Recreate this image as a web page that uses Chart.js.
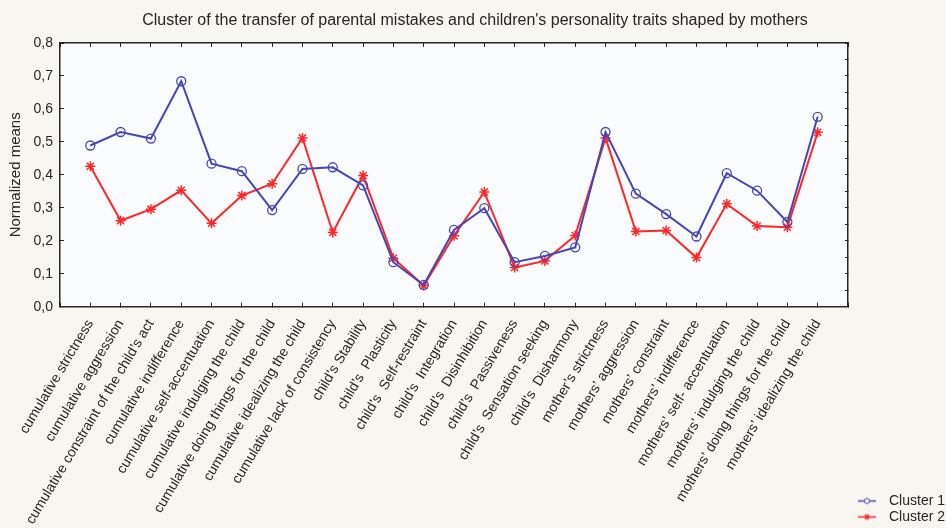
<!DOCTYPE html>
<html>
<head>
<meta charset="utf-8">
<script src="https://cdn.jsdelivr.net/npm/chart.js@4/dist/chart.umd.min.js"></script>
<style>
  html, body { margin: 0; padding: 0; background: #f8f6f0; }
  canvas { display: block; }
</style>
</head>
<body>
<canvas id="chart" width="946" height="528"></canvas>
<script>
// Variables along the x axis (parental mistakes, child traits, mothers' mistakes)
const categories = [
  "cumulative strictness",
  "cumulative aggression",
  "cumulative constraint of the child\u2019s act",
  "cumulative indifference",
  "cumulative self-accentuation",
  "cumulative indulging the child",
  "cumulative doing things for the child",
  "cumulative idealizing the child",
  "cumulative lack of consistency",
  "child\u2019s Stability",
  "child\u2019s  Plasticity",
  "child\u2019s  Self-restraint",
  "child\u2019s  Integration",
  "child\u2019s  Disinhibition",
  "child\u2019s  Passiveness",
  "child\u2019s  Sensation seeking",
  "child\u2019s  Disharmony",
  "mother\u2019s strictness",
  "mothers\u2019 aggression",
  "mothers\u2019 constraint",
  "mothers\u2019 indifference",
  "mothers\u2019 self- accentuation",
  "mothers\u2019 indulging the child",
  "mothers\u2019 doing things for the child",
  "mothers\u2019 idealizing the child"
];

// Normalized means per cluster
const cluster1 = [0.489, 0.530, 0.510, 0.684, 0.434, 0.411, 0.293, 0.418, 0.423, 0.368,
                  0.135, 0.066, 0.233, 0.299, 0.135, 0.154, 0.180, 0.530, 0.343, 0.281,
                  0.213, 0.405, 0.352, 0.257, 0.576];
const cluster2 = [0.426, 0.261, 0.296, 0.353, 0.253, 0.337, 0.373, 0.512, 0.225, 0.398,
                  0.147, 0.064, 0.215, 0.348, 0.119, 0.139, 0.216, 0.512, 0.228, 0.231,
                  0.149, 0.312, 0.245, 0.241, 0.529];

const seriesNames = ["Cluster 1", "Cluster 2"];
const yTickLabels = ["0,0", "0,1", "0,2", "0,3", "0,4", "0,5", "0,6", "0,7", "0,8"];

const BLUE = "#4646b6";
const RED = "#ff2626";
const INK = "#262626";
const FONT = "'Liberation Sans', Arial, sans-serif";

// Positions on the x axis: one slot per variable, with an empty slot at either end
const toPoints = values => values.map((v, i) => ({ x: i + 1, y: v }));

// Line-and-marker swatches for the legend
function legendSymbol(color, marker) {
  const cv = document.createElement("canvas");
  cv.width = 18; cv.height = 9;
  const g = cv.getContext("2d");
  g.strokeStyle = color;
  g.lineWidth = 1.5;
  g.beginPath(); g.moveTo(0, 4.5); g.lineTo(18, 4.5); g.stroke();
  if (marker === "circle") {
    g.lineWidth = 1;
    g.fillStyle = "#f4f4f8";
    g.beginPath(); g.arc(9, 4.5, 2.6, 0, Math.PI * 2); g.fill(); g.stroke();
  } else {
    g.lineWidth = 1.2;
    const r = 3;
    for (let k = 0; k < 4; k++) {
      const a = k * Math.PI / 4;
      g.beginPath();
      g.moveTo(9 - r * Math.cos(a), 4.5 - r * Math.sin(a));
      g.lineTo(9 + r * Math.cos(a), 4.5 + r * Math.sin(a));
      g.stroke();
    }
  }
  return cv;
}
const legendSymbols = [legendSymbol(BLUE, "circle"), legendSymbol(RED, "star")];

// Light fill behind the plotting area
const plotBackground = {
  id: "plotBackground",
  beforeDraw(chart) {
    const { ctx, chartArea: a } = chart;
    ctx.save();
    ctx.fillStyle = "#fafbfd";
    ctx.fillRect(a.left, a.top, a.right - a.left, a.bottom - a.top);
    ctx.restore();
  }
};

const frameBorder = { display: true, color: INK, width: 1.5 };

new Chart(document.getElementById("chart"), {
  type: "line",
  data: {
    datasets: [
      {
        label: seriesNames[0],
        data: toPoints(cluster1),
        borderColor: BLUE,
        borderWidth: 2,
        pointStyle: "circle",
        pointRadius: 4.5,
        pointBorderWidth: 1.3,
        pointBorderColor: BLUE,
        pointBackgroundColor: "rgba(0,0,0,0)",
        tension: 0
      },
      {
        label: seriesNames[1],
        data: toPoints(cluster2),
        borderColor: RED,
        borderWidth: 2,
        pointStyle: "star",
        pointRadius: 5,
        pointBorderWidth: 1.5,
        pointBorderColor: RED,
        pointBackgroundColor: RED,
        tension: 0
      }
    ]
  },
  options: {
    responsive: false,
    animation: false,
    devicePixelRatio: 1,
    layout: { padding: { left: 4, top: 0, right: 0, bottom: 2 } },
    plugins: {
      title: {
        display: true,
        text: "Cluster of the transfer of parental mistakes and children's personality traits shaped by mothers",
        color: INK,
        font: { family: FONT, size: 16, weight: "normal" },
        padding: { top: 11.4, bottom: 12.4 }
      },
      legend: {
        position: "right",
        align: "end",
        maxWidth: 96,
        labels: {
          usePointStyle: true,
          pointStyleWidth: 30,
          padding: 2,
          color: INK,
          font: { family: FONT, size: 14 },
          generateLabels(chart) {
            return chart.data.datasets.map((ds, i) => ({
              text: ds.label,
              pointStyle: legendSymbols[i],
              fillStyle: ds.borderColor,
              strokeStyle: ds.borderColor,
              lineWidth: 0,
              hidden: false,
              fontColor: INK,
              datasetIndex: i
            }));
          }
        }
      },
      tooltip: { enabled: false }
    },
    scales: {
      x: {
        type: "linear",
        position: "bottom",
        min: 0,
        max: 26,
        afterFit(scale) { scale.height = 219.3; },
        border: frameBorder,
        grid: { drawOnChartArea: false, color: INK, tickLength: -4, lineWidth: 1 },
        ticks: {
          stepSize: 1,
          autoSkip: false,
          minRotation: 59,
          maxRotation: 59,
          padding: 14,
          color: INK,
          font: { family: FONT, size: 14 },
          callback(value) {
            const i = Math.round(value) - 1;
            return i >= 0 && i < categories.length ? categories[i] : "";
          }
        }
      },
      x2: {
        type: "linear",
        position: "top",
        min: 0,
        max: 26,
        afterFit(scale) { scale.height = 0; },
        border: frameBorder,
        grid: { drawOnChartArea: false, color: INK, tickLength: -4, lineWidth: 1 },
        ticks: { display: false, stepSize: 1, autoSkip: false }
      },
      y: {
        type: "linear",
        position: "left",
        min: 0,
        max: 0.8,
        afterFit(scale) { scale.width = 56; },
        border: frameBorder,
        grid: { drawOnChartArea: false, color: INK, tickLength: -4, lineWidth: 1 },
        title: {
          display: true,
          text: "Normalized means",
          color: INK,
          font: { family: FONT, size: 15 },
          padding: { top: 3, bottom: 4 }
        },
        ticks: {
          stepSize: 0.1,
          padding: 11,
          color: INK,
          font: { family: FONT, size: 14 },
          callback(value) {
            const i = Math.round(value * 10);
            return yTickLabels[i] !== undefined ? yTickLabels[i] : "";
          }
        }
      },
      y2: {
        type: "linear",
        position: "right",
        min: 0,
        max: 0.8,
        afterFit(scale) { scale.width = 2; },
        border: frameBorder,
        grid: { drawOnChartArea: false, color: INK, tickLength: -3, lineWidth: 1 },
        ticks: { display: false, stepSize: 0.05 }
      }
    }
  },
  plugins: [plotBackground]
});
</script>
</body>
</html>
